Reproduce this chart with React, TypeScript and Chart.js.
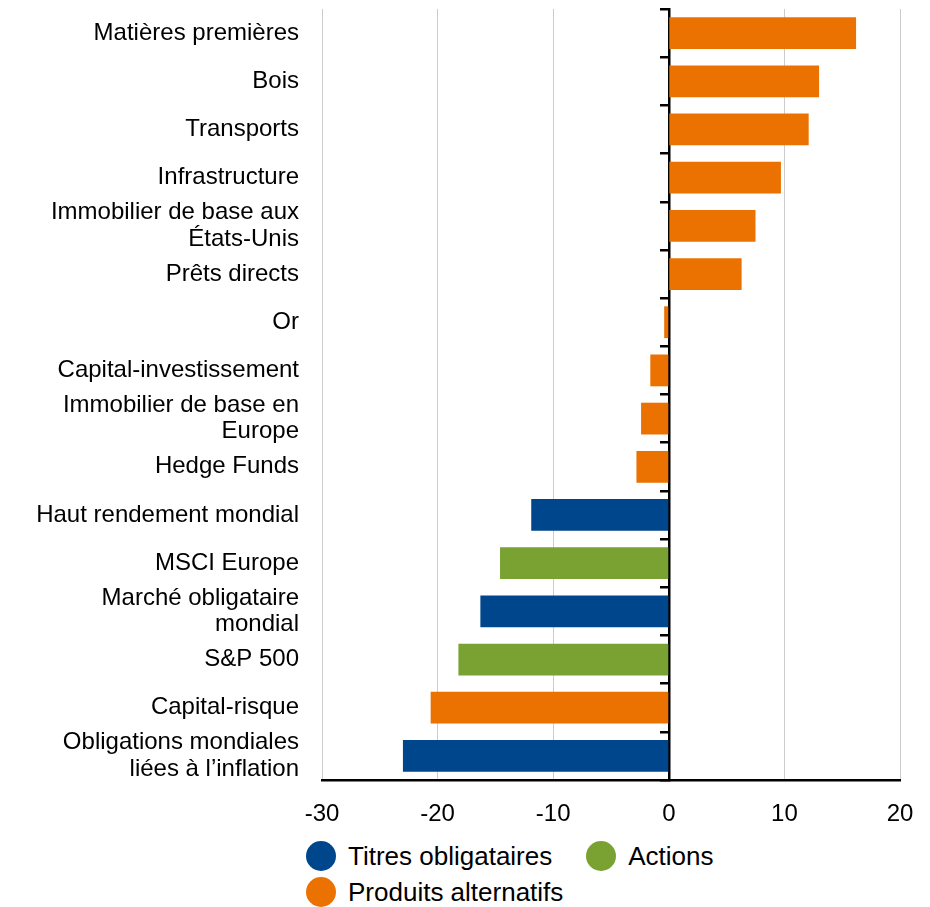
import React, { useEffect, useRef } from 'react';
import { Chart, registerables } from 'chart.js';

Chart.register(...registerables);

const categories: (string | string[])[] = [
  'Matières premières',
  'Bois',
  'Transports',
  'Infrastructure',
  ['Immobilier de base aux', 'États-Unis'],
  'Prêts directs',
  'Or',
  'Capital-investissement',
  ['Immobilier de base en', 'Europe'],
  'Hedge Funds',
  'Haut rendement mondial',
  'MSCI Europe',
  ['Marché obligataire', 'mondial'],
  'S&P 500',
  'Capital-risque',
  ['Obligations mondiales', 'liées à l’inflation'],
];

const values: number[] = [16.2, 13.0, 12.1, 9.7, 7.5, 6.3, -0.4, -1.6, -2.4, -2.8, -11.9, -14.6, -16.3, -18.2, -20.6, -23.0];

// 0 = Titres obligataires, 1 = Actions, 2 = Produits alternatifs
const groups: number[] = [2, 2, 2, 2, 2, 2, 2, 2, 2, 2, 0, 1, 0, 1, 2, 0];

const seriesNames: string[] = ['Titres obligataires', 'Actions', 'Produits alternatifs'];
const seriesColors: string[] = ['#00468C', '#7AA232', '#EB7200'];

const xTicks: number[] = [-30, -20, -10, 0, 10, 20];

const FONT_FAMILY = '"Liberation Sans", Arial, sans-serif';

export default function App() {
  const ref = useRef<HTMLCanvasElement>(null);

  useEffect(() => {
    document.body.style.margin = '0';
    const datasets = seriesNames.map((name, g) => ({
      label: name,
      data: values.map((v, i) => (groups[i] === g ? v : null)),
      backgroundColor: seriesColors[g],
      borderWidth: 0,
      yAxisID: 'y',
    }));
    const font = { family: FONT_FAMILY, size: 24, lineHeight: 1.1 };
    const chart = new Chart(ref.current!, {
      type: 'bar',
      data: { labels: categories as any, datasets: datasets as any },
      options: {
        indexAxis: 'y',
        animation: false,
        responsive: false,
        devicePixelRatio: 1,
        layout: { padding: { top: 9, right: 30, left: 0, bottom: 0 } },
        plugins: { legend: { display: false }, tooltip: { enabled: false } },
        datasets: { bar: { grouped: false, barPercentage: 0.66, categoryPercentage: 1 } } as any,
        scales: {
          x: {
            type: 'linear',
            min: xTicks[0],
            max: xTicks[xTicks.length - 1],
            afterBuildTicks: (s: any) => {
              s.ticks = xTicks.map((v) => ({ value: v }));
            },
            ticks: { font: { family: FONT_FAMILY, size: 24 }, color: '#000', padding: 20 },
            grid: { color: '#cccccc', lineWidth: 1, drawTicks: false },
            border: { display: true, color: '#000', width: 2.5 },
            afterFit: (s: any) => {
              s.height = 60;
              s.paddingLeft = 0;
              s.paddingRight = 0;
            },
          },
          y: {
            type: 'category',
            position: 'left',
            grid: { display: false, drawTicks: false },
            border: { display: false },
            ticks: { font, color: '#000', padding: 23, autoSkip: false },
            afterFit: (s: any) => {
              s.width = 322;
              s.paddingTop = 0;
              s.paddingBottom = 0;
            },
          },
          yZero: {
            type: 'category',
            axis: 'y',
            position: { x: 0 },
            offset: true,
            z: 1,
            grid: {
              display: true,
              offset: true,
              drawOnChartArea: false,
              drawTicks: true,
              tickLength: 8,
              color: '#000',
              lineWidth: 2.5,
            },
            border: { display: true, color: '#000', width: 2.5 },
            ticks: { display: false, autoSkip: false },
            afterFit: (s: any) => {
              s.paddingTop = 0;
              s.paddingBottom = 0;
            },
          },
        } as any,
      },
    });
    return () => chart.destroy();
  }, []);

  return (
    <div style={{ position: 'relative', width: 930, height: 907, background: '#fff' }}>
      <canvas ref={ref} width={930} height={840} style={{ display: 'block' }} />
      <div
        style={{
          position: 'absolute',
          left: 306,
          top: 841,
          width: 480,
          display: 'flex',
          flexWrap: 'wrap',
          rowGap: 6,
          fontFamily: FONT_FAMILY,
          fontSize: 26,
          color: '#000',
        }}
      >
        {seriesNames.map((name, i) => (
          <div key={name} style={{ display: 'flex', alignItems: 'center', height: 30, marginRight: 34 }}>
            <span
              style={{
                display: 'inline-block',
                width: 30,
                height: 30,
                borderRadius: '50%',
                background: seriesColors[i],
              }}
            />
            <span style={{ marginLeft: 12, whiteSpace: 'nowrap' }}>{name}</span>
          </div>
        ))}
      </div>
    </div>
  );
}
